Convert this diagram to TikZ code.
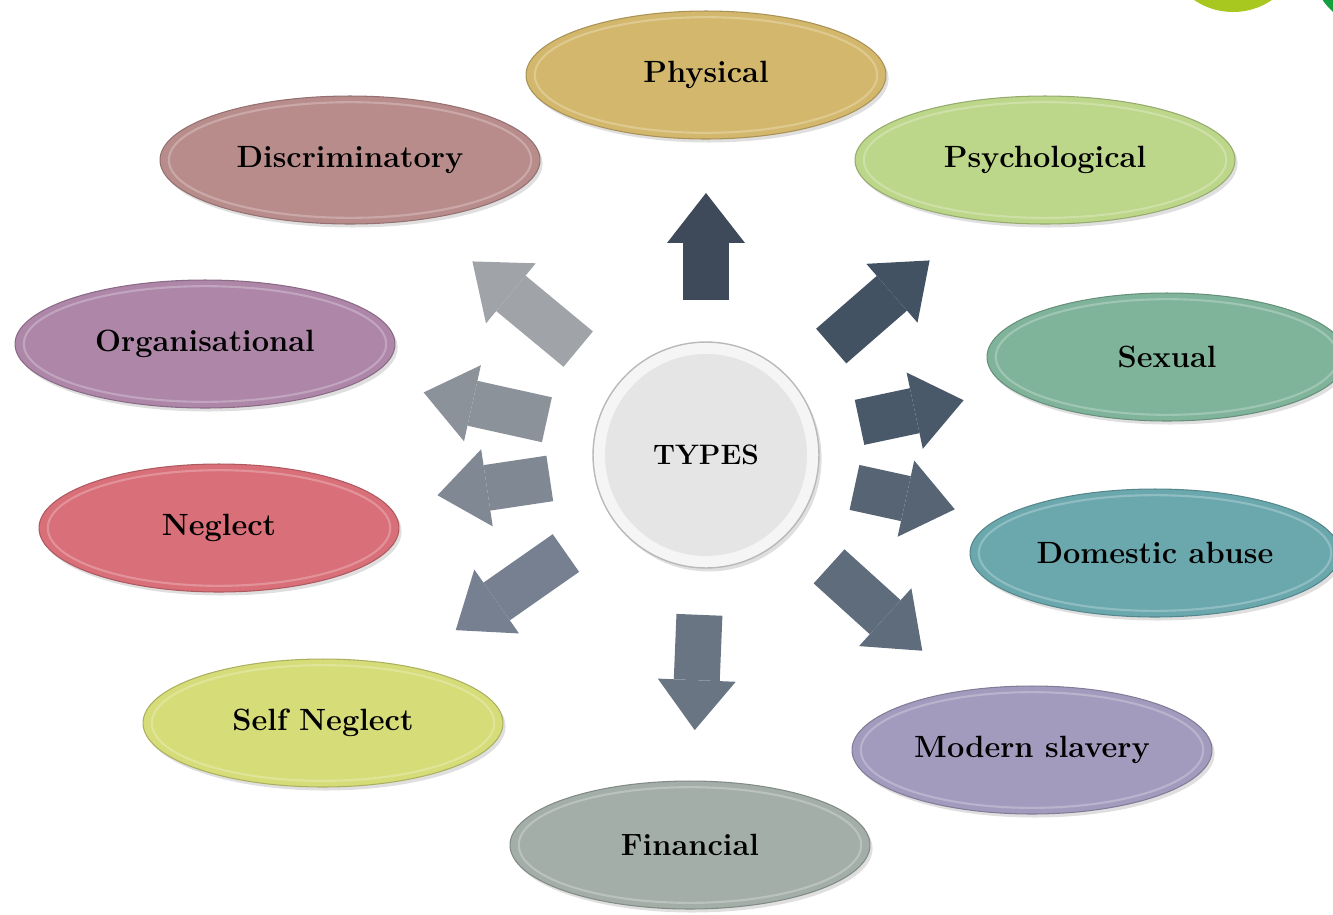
\documentclass[tikz,border=0pt]{standalone}
\usepackage{tikz}
\usetikzlibrary{arrows.meta}
\usetikzlibrary{shapes.geometric}
\usetikzlibrary{shadows}
\usetikzlibrary{calc}
\usetikzlibrary{positioning}

\definecolor{physcol}{HTML}{D3B76C}
\definecolor{psychcol}{HTML}{BCD68A}
\definecolor{sexcol}{HTML}{80B49A}
\definecolor{domcol}{HTML}{6AA8AE}
\definecolor{slavecol}{HTML}{A29BBD}
\definecolor{fincol}{HTML}{A3AEA8}
\definecolor{selfcol}{HTML}{D6DC78}
\definecolor{neglcol}{HTML}{D96F78}
\definecolor{orgcol}{HTML}{AD86A8}
\definecolor{discol}{HTML}{B98C8C}
\definecolor{limecol}{HTML}{A8C820}
\definecolor{leafcol}{HTML}{12A040}

\begin{document}
\begin{tikzpicture}[x=0.02cm,y=-0.02cm,
	kind/.style={ellipse,
				draw=#1!80!black,
				line width=0.6pt,
				fill=#1,
				drop shadow={opacity=0.25,shadow xshift=1.5pt,shadow yshift=-2pt},
				path picture={\draw[white,opacity=0.25,line width=1.2pt]
					let \p1=($(path picture bounding box.north east)-(path picture bounding box.center)$)
					in (path picture bounding box.center) ellipse [x radius=\x1-5pt,y radius=\y1-3.5pt];},
				minimum width=7.2cm,
				minimum height=2.56cm,
				font=\fontsize{17.5}{20}\selectfont\bfseries},
	hub/.style={circle,
				draw=gray!55,
				line width=0.8pt,
				fill=gray!8,
				minimum size=4.52cm,
				drop shadow={opacity=0.25,shadow xshift=1.5pt,shadow yshift=-2pt},
				path picture={\fill[gray!20] (path picture bounding box.center) circle (2.02cm);},
				font=\fontsize{16}{19}\selectfont\bfseries},
	blockarrow/.style={draw=#1,
				line width=0.92cm,
				-{Triangle[length=1cm,width=1.56cm,line width=0pt]}}]
	\clip (0,0) rectangle (1333,914);
	% corner decoration
	\fill[limecol] (1233,-57) circle (69);
	\fill[leafcol] (1380,-40) circle (70);
	% the ten kinds
	\node[kind=physcol] (physical) at (706,75) {Physical};
	\node[kind=psychcol,minimum width=7.6cm] (psychological) at (1045,160) {Psychological};
	\node[kind=sexcol] (sexual) at (1167,357) {Sexual};
	\node[kind=domcol,minimum width=7.4cm] (domestic) at (1155,553) {Domestic abuse};
	\node[kind=slavecol] (slavery) at (1032,750) {Modern slavery};
	\node[kind=fincol] (financial) at (690,845) {Financial};
	\node[kind=selfcol] (selfneglect) at (323,723) {Self Neglect};
	\node[kind=neglcol] (neglect) at (219,528) {Neglect};
	\node[kind=orgcol,minimum width=7.6cm] (organisational) at (205,344) {Organisational};
	\node[kind=discol,minimum width=7.6cm] (discriminatory) at (350,160) {Discriminatory};
	% centre
	\node[hub] (types) at (706,455) {TYPES};
	% arrows out of the centre
	\foreach \to/\col/\a/\b in {physical/3E4A5A/3.1/2.36,
			psychological/435263/3.32/3.06,
			sexual/4A596A/3.14/4.16,
			domestic/566474/3.04/4.1,
			slavery/5F6C7C/3.32/2.96,
			financial/6A7584/3.2/2.3,
			selfneglect/768090/3.42/3.24,
			neglect/808894/3.16/4.42,
			organisational/8C9299/3.26/4.48,
			discriminatory/A0A3A8/3.32/3.18}
		{\definecolor{arrcol}{HTML}{\col}
		 \draw[blockarrow=arrcol,shorten <=\a cm,shorten >=\b cm] (types.center) -- (\to.center);}
\end{tikzpicture}
\end{document}
